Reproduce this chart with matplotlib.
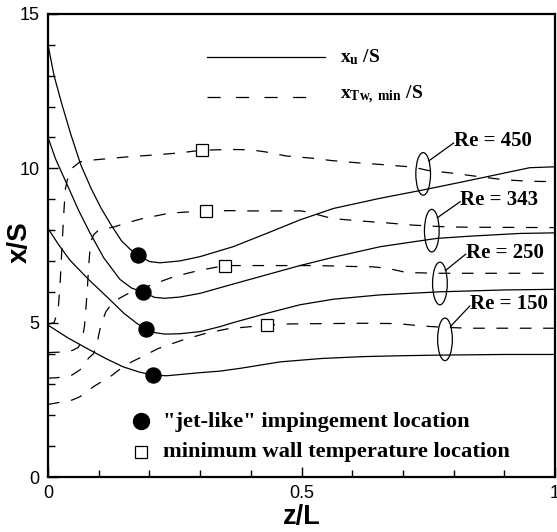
import matplotlib
matplotlib.use("Agg")
import matplotlib.pyplot as plt
from matplotlib.patches import Ellipse

# ---- x_u/S curves (solid) ----
z_u_450 = [0, 0.012, 0.027, 0.045, 0.065, 0.085, 0.105, 0.125, 0.145, 0.162, 0.177, 0.20, 0.221, 0.26,
           0.30, 0.365, 0.431, 0.497, 0.563, 0.655, 0.74, 0.82, 0.898, 0.95, 1.0]
xu_450 = [14.0, 13.0, 12.1, 11.1, 10.1, 9.35, 8.7, 8.15, 7.65, 7.38, 7.2, 6.98, 6.94, 7.0,
          7.14, 7.46, 7.89, 8.33, 8.70, 9.03, 9.30, 9.57, 9.84, 10.02, 10.05]

z_u_343 = [0, 0.015, 0.037, 0.06, 0.083, 0.11, 0.142, 0.165, 0.188, 0.21, 0.23, 0.26, 0.30,
           0.365, 0.431, 0.497, 0.563, 0.655, 0.70, 0.767, 0.83, 0.93, 1.0]
xu_343 = [11.0, 10.3, 9.5, 8.65, 7.9, 7.1, 6.4, 6.12, 5.99, 5.82, 5.79, 5.83, 5.95,
          6.25, 6.55, 6.85, 7.12, 7.46, 7.57, 7.73, 7.80, 7.89, 7.91]

z_u_250 = [0, 0.02, 0.043, 0.08, 0.116, 0.15, 0.175, 0.193, 0.21, 0.23, 0.26, 0.30, 0.339,
           0.365, 0.431, 0.497, 0.563, 0.655, 0.773, 0.9, 1.0]
xu_250 = [8.05, 7.55, 7.03, 6.4, 5.84, 5.3, 4.98, 4.79, 4.68, 4.63, 4.64, 4.71, 4.87,
          5.0, 5.3, 5.58, 5.76, 5.9, 6.0, 6.06, 6.08]

z_u_150 = [0, 0.04, 0.083, 0.115, 0.148, 0.18, 0.208, 0.234, 0.30, 0.339, 0.379, 0.458,
           0.54, 0.621, 0.70, 0.779, 0.9, 1.0]
xu_150 = [4.92, 4.5, 4.11, 3.83, 3.57, 3.4, 3.30, 3.28, 3.38, 3.43, 3.52, 3.73,
          3.84, 3.90, 3.93, 3.95, 3.97, 3.97]

# ---- x_Tw,min/S curves (dashed) ----
z_t_450 = [0, 0.012, 0.02, 0.024, 0.028, 0.031, 0.034, 0.038, 0.047, 0.063, 0.089, 0.109, 0.155,
           0.207, 0.26, 0.304, 0.365, 0.40, 0.43, 0.47, 0.52, 0.56, 0.61, 0.66, 0.72, 0.75,
           0.80, 0.85, 0.90, 0.95, 1.0]
xt_450 = [4.95, 5.0, 5.4, 6.3, 7.6, 8.5, 9.3, 9.62, 10.0, 10.21, 10.27, 10.3, 10.37,
          10.43, 10.5, 10.59, 10.61, 10.6, 10.53, 10.4, 10.33, 10.25, 10.18, 10.12, 10.04, 9.93,
          9.84, 9.73, 9.63, 9.58, 9.57]

z_t_343 = [0, 0.03, 0.048, 0.06, 0.068, 0.072, 0.075, 0.078, 0.08, 0.084, 0.09, 0.10, 0.13,
           0.155, 0.19, 0.21, 0.24, 0.27, 0.311, 0.36, 0.40, 0.46, 0.50, 0.52, 0.55, 0.57,
           0.62, 0.67, 0.72, 0.79, 0.85, 1.0]
xt_343 = [4.03, 4.05, 4.1, 4.2, 4.5, 4.9, 5.5, 6.2, 6.8, 7.6, 7.85, 8.0, 8.1,
          8.23, 8.39, 8.45, 8.55, 8.58, 8.62, 8.63, 8.62, 8.62, 8.62, 8.55, 8.42, 8.36,
          8.29, 8.23, 8.16, 8.10, 8.09, 8.08]

z_t_250 = [0, 0.02, 0.047, 0.063, 0.08, 0.09, 0.097, 0.10, 0.104, 0.114, 0.125, 0.142, 0.16,
           0.2, 0.25, 0.3, 0.349, 0.40, 0.45, 0.53, 0.6, 0.64, 0.67, 0.70, 0.72, 0.77, 1.0]
xt_250 = [3.2, 3.22, 3.3, 3.47, 3.85, 4.0, 4.3, 4.6, 4.9, 5.35, 5.6, 5.8, 5.96,
          6.2, 6.5, 6.7, 6.85, 6.85, 6.85, 6.85, 6.82, 6.81, 6.76, 6.65, 6.62, 6.6, 6.6]

z_t_150 = [0, 0.047, 0.063, 0.09, 0.106, 0.125, 0.14, 0.165, 0.185, 0.217, 0.264, 0.31, 0.354,
           0.431, 0.48, 0.55, 0.62, 0.69, 0.72, 0.74, 0.78, 0.83, 1.0]
xt_150 = [2.35, 2.49, 2.6, 2.93, 3.09, 3.28, 3.47, 3.73, 3.89, 4.16, 4.43, 4.65, 4.8,
          4.92, 4.96, 4.97, 4.98, 4.97, 4.92, 4.89, 4.85, 4.82, 4.82]

# "jet-like" impingement points and minimum wall temperature points
jet_z = [0.177, 0.188, 0.193, 0.208]
jet_x = [7.2, 5.99, 4.79, 3.30]
tmin_z = [0.304, 0.311, 0.349, 0.431]
tmin_x = [10.59, 8.62, 6.85, 4.92]

# Reynolds number labels
re_labels = ["Re = 450", "Re = 343", "Re = 250", "Re = 150"]
ell_z = [0.740, 0.757, 0.773, 0.783]
ell_x = [9.82, 7.98, 6.27, 4.46]
lab_z = [0.800, 0.813, 0.824, 0.832]
lab_x = [10.87, 8.97, 7.27, 5.59]

plt.rcParams["lines.scale_dashes"] = False
plt.rcParams["mathtext.fontset"] = "custom"
plt.rcParams["mathtext.rm"] = "Liberation Serif"
plt.rcParams["mathtext.it"] = "Liberation Serif:italic"
plt.rcParams["mathtext.bf"] = "Liberation Serif:bold"
plt.rcParams["font.family"] = "Liberation Sans"

fig = plt.figure(figsize=(5.57, 5.32), dpi=100)
ax = fig.add_axes([48 / 557, 1 - 477 / 532, 507 / 557, 463 / 532])

dash = (0, (8.4, 8.4))
lw = 0.9
for z, x in [(z_u_450, xu_450), (z_u_343, xu_343), (z_u_250, xu_250), (z_u_150, xu_150)]:
    ax.plot(z, x, color="black", lw=lw, zorder=3)
for z, x in [(z_t_450, xt_450), (z_t_343, xt_343), (z_t_250, xt_250), (z_t_150, xt_150)]:
    ax.plot(z, x, color="black", lw=lw, linestyle=dash, zorder=3)

ax.plot(jet_z, jet_x, "o", ms=10.8, color="black", zorder=5)
ax.plot(tmin_z, tmin_x, "s", ms=9, mfc="white", mec="black", mew=0.9, zorder=5)

# Re labels with ellipses and leader lines
for name, ez, ex, tz, tx in zip(re_labels, ell_z, ell_x, lab_z, lab_x):
    ax.add_patch(Ellipse((ez, ex), 0.029, 1.38, fill=False, ec="black", lw=0.9, zorder=4))
    ax.plot([ez + 0.011, tz], [ex + 0.42, tx - 0.05], color="black", lw=0.9, zorder=4)
    ax.text(tz, tx, name, ha="left", va="center", fontsize=15,
            family="Liberation Serif", weight="bold")

# line-style legend at the top
ax.plot([0.313, 0.546], [13.62, 13.62], color="black", lw=lw)
ax.plot([0.313, 0.523], [12.32, 12.32], color="black", lw=lw, linestyle=(0, (9.5, 11)))
ax.text(0.576, 13.44, r"$\mathbf{x_{u}}$ /S", ha="left", va="baseline", fontsize=14,
        family="Liberation Serif", weight="bold")
ax.text(0.576, 12.24, r"$\mathbf{x_{Tw,\ min}}$ /S", ha="left", va="baseline", fontsize=14,
        family="Liberation Serif", weight="bold")

# marker legend at the bottom
ax.plot([0.183], [1.81], "o", ms=11.5, color="black")
ax.plot([0.183], [0.80], "s", ms=9, mfc="white", mec="black", mew=0.9)
ax.text(0.227, 1.63, '"jet-like" impingement location', ha="left", va="baseline",
        fontsize=16.2, family="Liberation Serif", weight="bold")
ax.text(0.227, 0.66, "minimum wall temperature location", ha="left", va="baseline",
        fontsize=16.2, family="Liberation Serif", weight="bold")

ax.set_xlim(0, 1)
ax.set_ylim(0, 15)
ax.set_xticks([0, 0.5, 1])
ax.set_xticklabels(["0", "0.5", "1"])
ax.set_yticks([0, 5, 10, 15])
ax.set_xticks([i / 10 for i in range(11)], minor=True)
ax.set_yticks(range(16), minor=True)
ax.tick_params(which="both", direction="in", top=False, right=False, labelsize=13, width=1.0)
ax.tick_params(which="major", length=7.5, pad=6)
ax.tick_params(which="minor", length=5)
for s in ax.spines.values():
    s.set_linewidth(1.6)

# axis titles placed in figure coordinates
fig.text(302 / 557, 1 - 524 / 532, "z/L", ha="center", va="baseline", fontsize=19.5, weight="bold")
fig.text(20 / 557, 1 - 242 / 532, "x/S", ha="center", va="center", rotation=90,
         fontsize=20, weight="bold")

fig.savefig("out.png", dpi=100)
